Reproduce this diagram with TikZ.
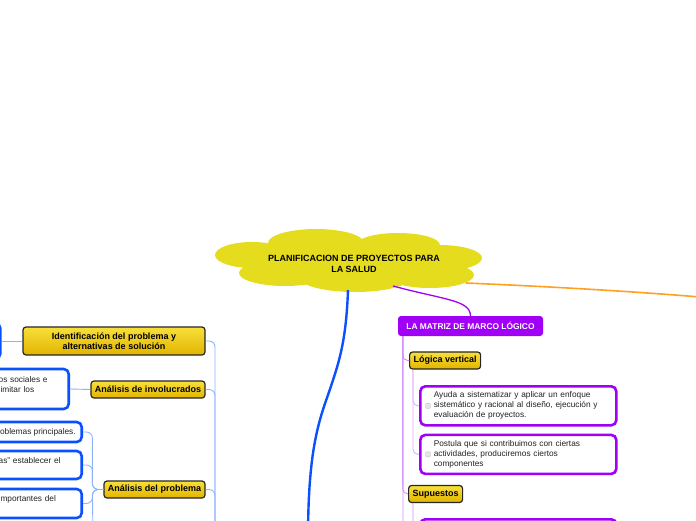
\documentclass[tikz,border=0pt]{standalone}
\usepackage{fontspec}
\setmainfont{Liberation Sans}
\usetikzlibrary{positioning, calc}
\definecolor{mapyellow}{HTML}{E6DC1E}
\definecolor{topictop}{HTML}{F8E03A}
\definecolor{topicbot}{HTML}{E2B400}
\definecolor{mapblue}{HTML}{0A50FF}
\definecolor{mapbluelt}{HTML}{8FB2FF}
\definecolor{mappurple}{HTML}{A000F5}
\definecolor{mappurplelt}{HTML}{CF8CFF}
\definecolor{maporange}{HTML}{FFA01E}
\definecolor{leaftext}{HTML}{222222}
\tikzset{
  ttopic/.style={draw=black!85, line width=1.2pt, rounded corners=3pt, top color=topictop, bottom color=topicbot, align=center, inner xsep=4pt, inner ysep=2pt, minimum height=17pt, font=\fontsize{9}{10}\selectfont\bfseries},
  tleafB/.style={draw=mapblue, line width=2.6pt, rounded corners=5pt, fill=white, align=left, text=leaftext, inner xsep=6pt, font=\fontsize{8.3}{10}\selectfont},
  tleafP/.style={tleafB, draw=mappurple, text width=169pt, inner xsep=13.5pt, minimum height=39pt},
  tmain/.style={fill=mappurple, rounded corners=3pt, text=white, minimum width=145pt, minimum height=20pt, font=\fontsize{8.4}{10}\selectfont\bfseries},
  tchk/.style={draw=gray!45, fill=gray!20, rounded corners=1pt, minimum size=5pt, inner sep=0pt},
  tlinkB/.style={mapbluelt, line width=0.9pt, rounded corners=6pt},
  tlinkP/.style={mappurplelt, line width=0.9pt, rounded corners=5pt},
}

\begin{document}
\begin{tikzpicture}[x=1pt, y=-1pt]
  \useasboundingbox (0,0) rectangle (696,520);
  % cloud
  \fill[mapyellow] (350,262) ellipse [x radius=110pt, y radius=22pt];
  \fill[mapyellow] (252,255) ellipse [x radius=37pt, y radius=13pt];
  \fill[mapyellow] (316,243) ellipse [x radius=48pt, y radius=14pt];
  \fill[mapyellow] (398,245) ellipse [x radius=42pt, y radius=12pt];
  \fill[mapyellow] (440,258) ellipse [x radius=42pt, y radius=13pt];
  \fill[mapyellow] (285,273) ellipse [x radius=46pt, y radius=13pt];
  \fill[mapyellow] (355,278) ellipse [x radius=55pt, y radius=14pt];
  \fill[mapyellow] (430,275) ellipse [x radius=44pt, y radius=13pt];
  \node[align=center, font=\fontsize{9}{10.7}\selectfont\bfseries] (title) at (354,263.7) {PLANIFICACION DE PROYECTOS PARA\\LA SALUD};
  \coordinate (cloudS) at (348,290);
  \coordinate (cloudSE) at (393,286);
  \coordinate (cloudE) at (466,283);
  \coordinate (hubC) at (308,540);
  \coordinate (offR) at (700,297);

  % left side
  \node[ttopic, minimum width=182pt, minimum height=28pt] (ident) at (114,341) {Identificación del problema y\\alternativas de solución};
  \node[tleafB, minimum width=80pt, minimum height=36pt, anchor=east] (idleaf) at (1.5,341) {};
  \node[ttopic, minimum width=114pt] (invol) at (148,389.5) {Análisis de involucrados};
  \node[tleafB, text width=64pt, minimum height=40pt, anchor=east] (invleaf) at (70,389) {os sociales e\\limitar los\\\mbox{}};
  \node[ttopic, minimum width=101pt] (prob) at (154.5,489.5) {Análisis del problema};
  \node[tleafB, minimum height=20pt, anchor=east] (pa) at (83,432) {oblemas principales.};
  \node[tleafB, text width=77pt, minimum height=28pt, anchor=east] (pb) at (83,465) {as” establecer el\\\mbox{}};
  \node[tleafB, text width=77pt, minimum height=29pt, anchor=east] (pc) at (83,503.5) {importantes del\\\mbox{}};
  \coordinate (hubL) at (215,540);
  \coordinate (pdown) at (93,540);

  % right side
  \node[tmain] (matriz) at (470.5,326) {LA MATRIZ DE MARCO LÓGICO};
  \node[ttopic, anchor=west] (logv) at (409,360.5) {Lógica vertical};
  \node[tleafP, anchor=north west] (lv1) at (419,385) {Ayuda a sistematizar y aplicar un enfoque\\sistemático y racional al diseño, ejecución y\\evaluación de proyectos.};
  \node[tleafP, below=7pt of lv1] (lv2) {Postula que si contribuimos con ciertas\\actividades, produciremos ciertos\\componentes};
  \node[tchk] (chk1) at ($(lv1.west)+(9,0)$) {};
  \node[tchk] (chk2) at ($(lv2.west)+(9,0)$) {};
  \node[ttopic, anchor=west] (sup) at (408,494) {Supuestos};
  \node[tleafP, anchor=north west] (sp1) at (419,518) {\mbox{}};
  \coordinate (mtrunk) at ($(matriz.south west)+(5,0)$);
  \coordinate (mdown) at (403,540);
  \coordinate (lvtrunk) at ($(logv.south west)+(4,0)$);
  \coordinate (suptrunk) at ($(sup.south west)+(5,0)$);

  % connectors
  \draw[mapblue, line width=2.4pt] (cloudS) .. controls (346,345) and (338,365) .. (328,395) .. controls (316,428) and (308,460) .. (hubC);
  \draw[mappurple, line width=1.3pt] (cloudSE) .. controls (445,300) and (470,300) .. (matriz.north);
  \draw[maporange, line width=1.6pt] (cloudE) .. controls (560,287) and (640,292) .. (offR);

  \draw[tlinkB] (ident.east) -| (hubL);
  \draw[tlinkB] (invol.east) -| (hubL);
  \draw[tlinkB] (prob.east) -| (hubL);
  \draw[tlinkB] (ident.west) -- (idleaf.east);
  \draw[tlinkB] (invol.west) -- (invleaf.east);
  \draw[tlinkB] (prob.west) -- ++(-11,0) |- (pa.east);
  \draw[tlinkB] (prob.west) -- ++(-11,0) |- (pb.east);
  \draw[tlinkB] (prob.west) -- ++(-11,0) |- (pc.east);
  \draw[tlinkB] (prob.west) -- ++(-11,0) -- (pdown);

  \draw[tlinkP] (mtrunk) |- (logv.west);
  \draw[tlinkP] (mtrunk) |- (sup.west);
  \draw[tlinkP] (mtrunk) -- (mdown);
  \draw[tlinkP, mappurplelt!70] (lvtrunk) |- (lv1.west);
  \draw[tlinkP, mappurplelt!70] (lvtrunk) |- (lv2.west);
  \draw[tlinkP] (suptrunk) |- (sp1.west);
\end{tikzpicture}
\end{document}
